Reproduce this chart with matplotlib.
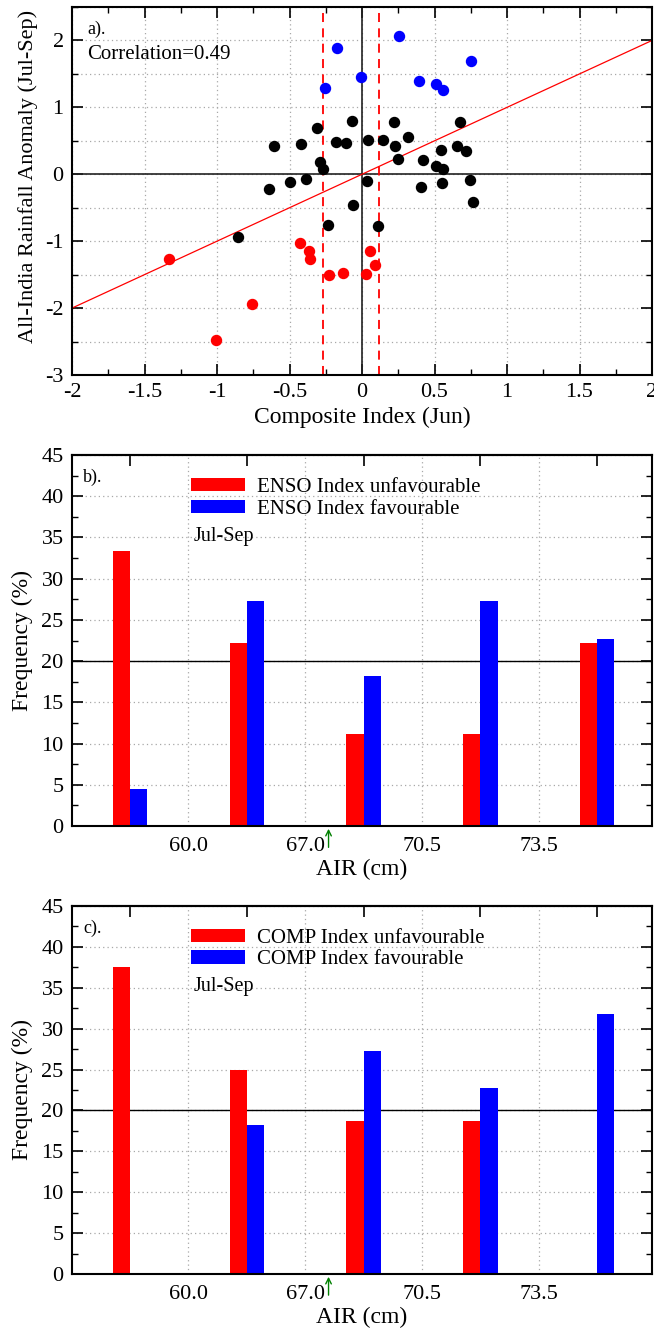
import numpy as np
import matplotlib
matplotlib.use("Agg")
import matplotlib.pyplot as plt
from matplotlib.patches import Patch
from matplotlib.ticker import MultipleLocator, FixedLocator, FuncFormatter

plt.rcParams['font.family'] = ['Liberation Serif', 'DejaVu Serif']
plt.rcParams['axes.unicode_minus'] = False

# ---- panel a: composite index vs rainfall anomaly ----
black_x = [-0.61, -0.42, -0.31, -0.18, -0.11, -0.07, -0.29, -0.27, -0.386, -0.50, -0.64,
           0.041, 0.147, 0.22, 0.228, 0.315, 0.25, 0.42, 0.547, 0.676, 0.657, 0.72,
           0.508, 0.561, 0.032, 0.41, 0.554, 0.745, 0.763, -0.06, 0.113, -0.232, -0.857]
black_y = [0.42, 0.45, 0.69, 0.48, 0.47, 0.79, 0.18, 0.085, -0.07, -0.115, -0.22,
           0.51, 0.51, 0.78, 0.42, 0.56, 0.23, 0.22, 0.37, 0.78, 0.43, 0.35,
           0.13, 0.085, -0.10, -0.19, -0.13, -0.08, -0.42, -0.46, -0.78, -0.76, -0.94]
blue_x = [-0.175, -0.255, -0.01, 0.257, 0.393, 0.51, 0.56, 0.752]
blue_y = [1.88, 1.29, 1.46, 2.07, 1.40, 1.35, 1.26, 1.70]
red_x = [0.055, 0.087, 0.03, -0.129, -1.333, -0.428, -0.363, -0.356, -0.23, -0.756, -1.005]
red_y = [-1.14, -1.36, -1.49, -1.47, -1.26, -1.03, -1.15, -1.27, -1.50, -1.94, -2.47]
fit_slope, fit_intercept = 1.0, 0.0
thr_lo, thr_hi = -0.27, 0.12
correlation = 0.49

# ---- panels b, c: frequency of AIR categories ----
bin_edges = [60.0, 67.0, 70.5, 73.5]
bin_labels = ['60.0', '67.0', '70.5', '73.5']
normal_air = 67.7
enso_unfav = [33.3, 22.2, 11.1, 11.1, 22.2]
enso_fav = [4.5, 27.3, 18.2, 27.3, 22.7]
comp_unfav = [37.5, 25.0, 18.75, 18.75, 0.0]
comp_fav = [0.0, 18.2, 27.3, 22.7, 31.8]

W, H = 654, 1333
fig = plt.figure(figsize=(W / 100, H / 100), dpi=100)

def box(l, t, r, b):
    return [l / W, 1 - b / H, (r - l) / W, (b - t) / H]

grid_kw = dict(color='#a8a8a8', linestyle=(0, (1, 2.5)), linewidth=0.9)
TICK = 16
LAB = 17

def style_frame(ax):
    for s in ax.spines.values():
        s.set_linewidth(1.5)
    ax.tick_params(which='both', direction='in', top=True, right=True,
                   labelsize=TICK, pad=6)
    ax.tick_params(which='major', length=8, width=1.2)
    ax.tick_params(which='minor', length=4.5, width=1.0)

# panel a
ax = fig.add_axes(box(72, 7, 652, 375))
ax.set_xlim(-2, 2)
ax.set_ylim(-3, 2.5)
ax.xaxis.set_major_locator(MultipleLocator(0.5))
ax.xaxis.set_minor_locator(MultipleLocator(0.25))
ax.yaxis.set_major_locator(FixedLocator([-3, -2, -1, 0, 1, 2]))
ax.yaxis.set_minor_locator(MultipleLocator(0.5))
ax.xaxis.set_major_formatter(FuncFormatter(lambda v, p: '%g' % round(v, 2)))
ax.yaxis.set_major_formatter(FuncFormatter(lambda v, p: '%g' % round(v, 2)))
ax.set_axisbelow(True)
ax.grid(True, axis='x', which='major', **grid_kw)
ax.grid(True, axis='y', which='both', **grid_kw)
style_frame(ax)
ax.axhline(0, color='#222222', linewidth=1.2, zorder=1)
ax.axvline(0, color='#222222', linewidth=1.2, zorder=1)
xs = np.array(ax.get_xlim())
ax.plot(xs, fit_slope * xs + fit_intercept, color='red', linewidth=0.9, zorder=2)
for t in (thr_lo, thr_hi):
    ax.axvline(t, color='red', linewidth=1.3, linestyle=(0, (5, 3.5)), zorder=2)
ax.plot(black_x, black_y, 'o', color='black', markersize=7.2, zorder=3)
ax.plot(blue_x, blue_y, 'o', color='blue', markersize=7.2, zorder=3)
ax.plot(red_x, red_y, 'o', color='red', markersize=7.2, zorder=3)
ax.text(0.026, 0.94, 'a).', transform=ax.transAxes, fontsize=13, va='center')
ax.text(0.026, 0.872, 'Correlation=%.2f' % correlation, transform=ax.transAxes,
        fontsize=15, va='center')
ax.set_xlabel('Composite Index (Jun)', fontsize=LAB, labelpad=3)
ax.set_ylabel('All-India Rainfall Anomaly (Jul-Sep)', fontsize=16)
ax.yaxis.set_label_coords(-0.058, 0.54)


def bar_panel(rect, unfav, fav, name, tag):
    ax = fig.add_axes(rect)
    pos = np.arange(1, len(unfav) + 1)
    width = 0.148
    ax.set_xlim(0.503, 5.47)
    ax.set_ylim(0, 45)
    ax.set_axisbelow(True)
    ax.yaxis.set_major_locator(MultipleLocator(5))
    ax.yaxis.set_minor_locator(MultipleLocator(2.5))
    label_pos = pos[:-1] + 0.5
    ax.set_xticks(label_pos)
    ax.set_xticklabels(bin_labels)
    ax.grid(True, axis='both', which='major', **grid_kw)
    style_frame(ax)
    ax.tick_params(axis='x', which='both', top=False, bottom=False, pad=8)
    top = ax.secondary_xaxis('top')
    top.set_xticks(pos)
    top.set_xticklabels([])
    top.tick_params(direction='in', length=8, width=1.2)
    top.spines['top'].set_linewidth(1.5)
    ax.bar(pos - width / 2, unfav, width, color='red', zorder=2)
    ax.bar(pos + width / 2, fav, width, color='blue', zorder=2)
    ax.axhline(20, color='black', linewidth=1.0, zorder=1)
    arrow_x = np.interp(normal_air, bin_edges, label_pos)
    ax.annotate('', xy=(arrow_x, 0), xycoords=('data', 'axes fraction'),
                xytext=(arrow_x, -0.065), textcoords=('data', 'axes fraction'),
                arrowprops=dict(arrowstyle='->', color='green', lw=1.0),
                annotation_clip=False)
    handles = [Patch(facecolor='red'), Patch(facecolor='blue')]
    ax.legend(handles, [name + ' Index unfavourable', name + ' Index favourable'],
              loc='upper left', bbox_to_anchor=(0.205, 0.938), frameon=False,
              fontsize=15, handlelength=2.6, handleheight=0.6,
              handletextpad=0.55, labelspacing=0.12, borderpad=0, borderaxespad=0)
    ax.text(0.209, 0.781, 'Jul-Sep', transform=ax.transAxes, fontsize=14.5,
            va='center')
    ax.text(0.019, 0.94, tag, transform=ax.transAxes, fontsize=13, va='center')
    ax.set_xlabel('AIR (cm)', fontsize=LAB, labelpad=2)
    ax.set_ylabel('Frequency (%)', fontsize=LAB, labelpad=6)
    return ax

bar_panel(box(72, 455, 652, 826), enso_unfav, enso_fav, 'ENSO', 'b).')
bar_panel(box(72, 906, 652, 1274), comp_unfav, comp_fav, 'COMP', 'c).')

fig.savefig('out.png', dpi=100)
